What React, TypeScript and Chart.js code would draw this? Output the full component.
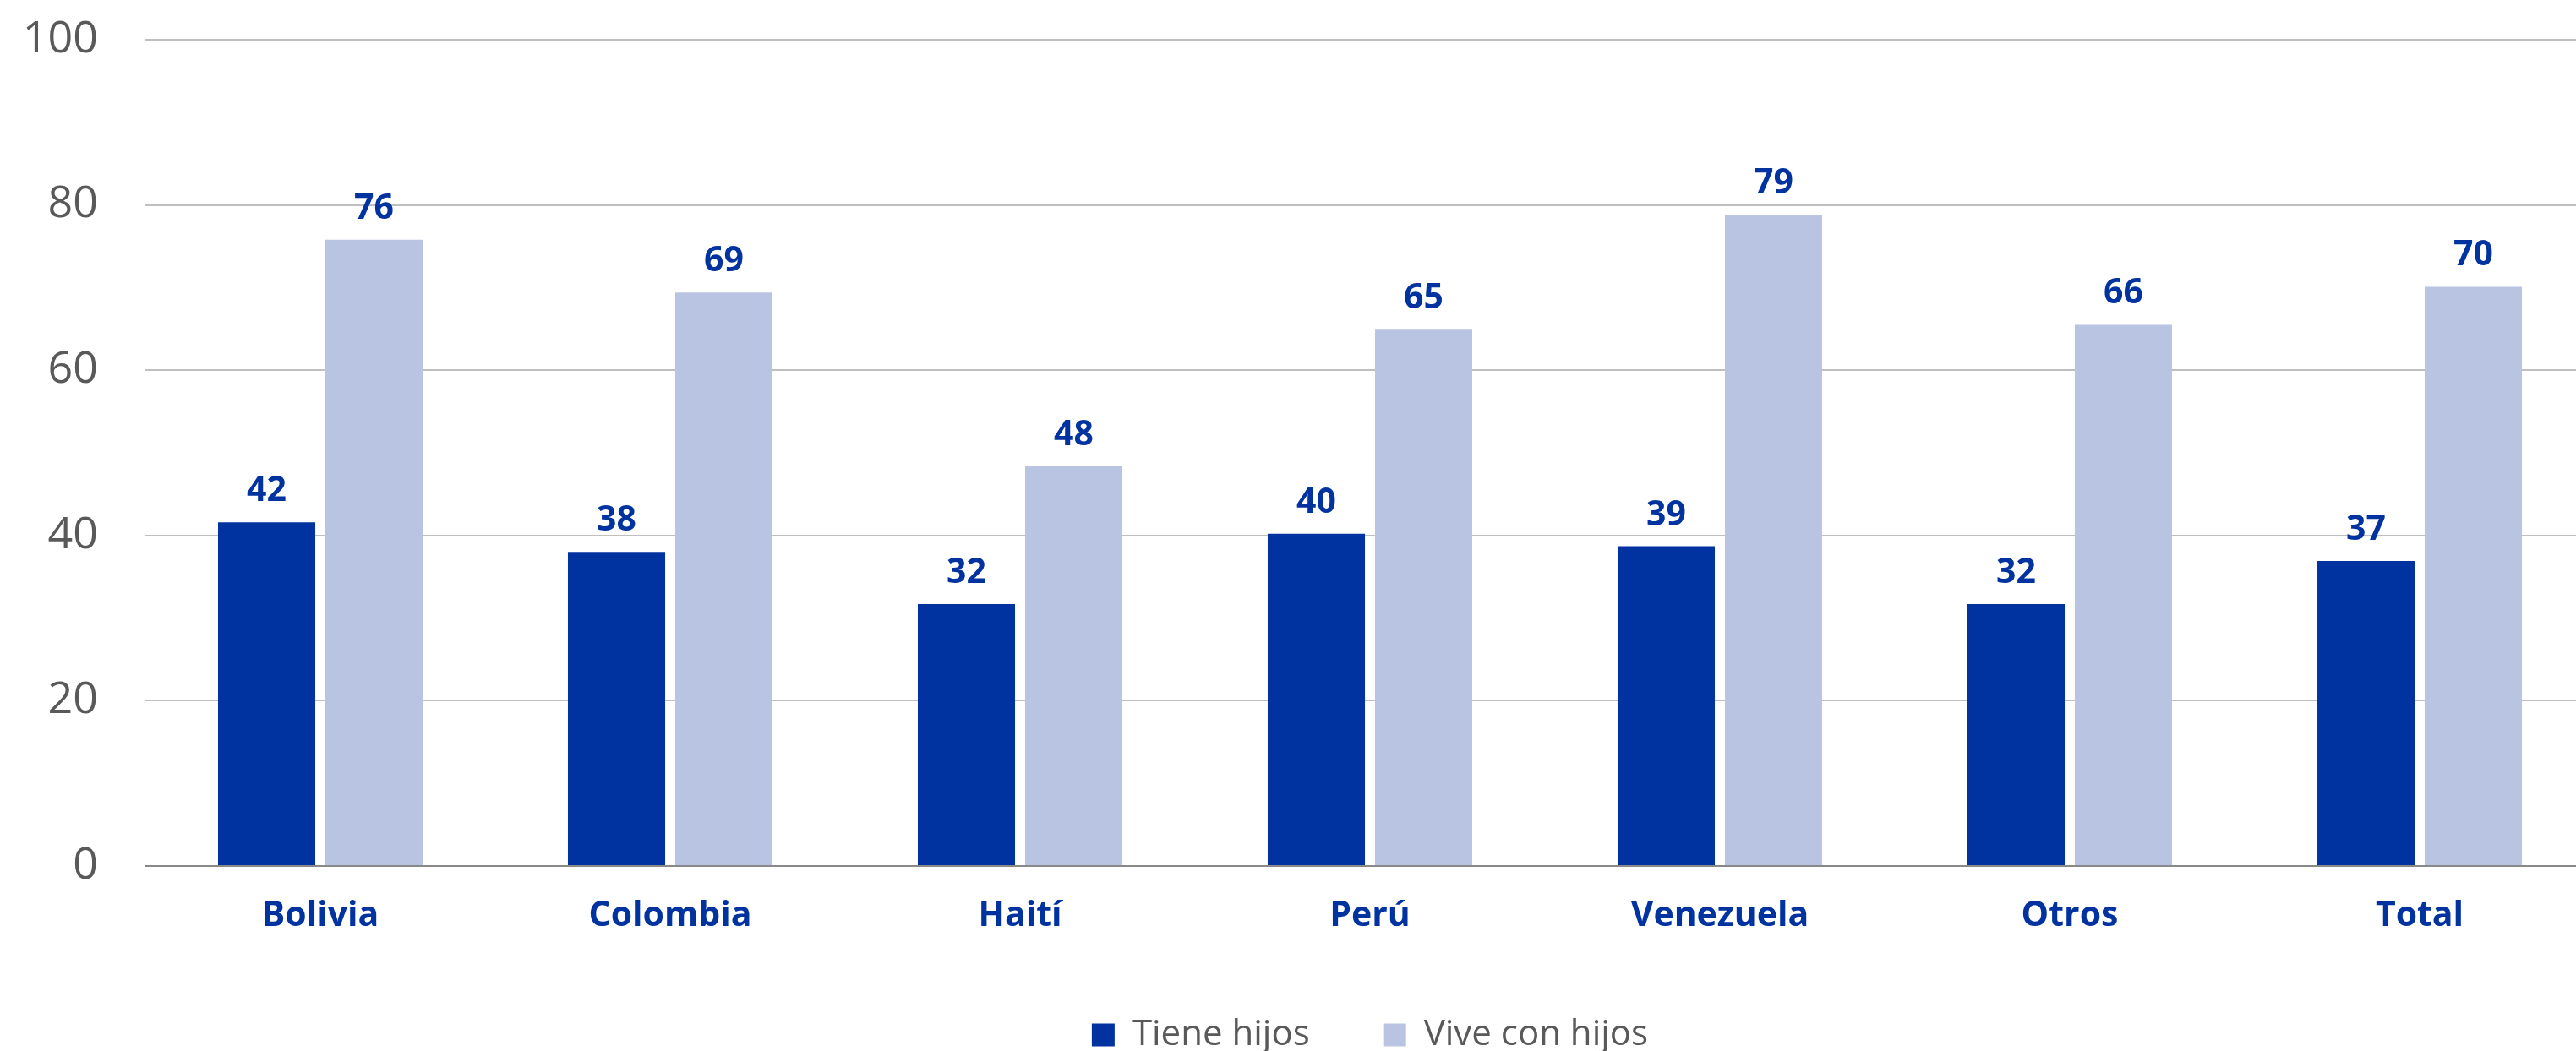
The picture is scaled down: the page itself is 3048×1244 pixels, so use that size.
import React, { useEffect, useRef } from "react";
import { Chart, registerables } from "chart.js";

Chart.register(...registerables);

const categories = ["Bolivia", "Colombia", "Haití", "Perú", "Venezuela", "Otros", "Total"];
const tieneHijos = [41.6, 38.0, 31.7, 40.2, 38.7, 31.7, 36.9];
const viveConHijos = [75.8, 69.4, 48.4, 64.9, 78.8, 65.5, 70.1];
const seriesNames = ["Tiene hijos", "Vive con hijos"];
const seriesColors = ["#0033A0", "#B8C4E1"];
const yMin = 0;
const yMax = 100;
const yStep = 20;

const FONT = "'Open Sans', 'Noto Sans', sans-serif";

const valueLabels = {
  id: "valueLabels",
  afterDatasetsDraw(chart: any) {
    const ctx = chart.ctx;
    ctx.save();
    ctx.font = `bold 41px ${FONT}`;
    ctx.fillStyle = "#0033A0";
    ctx.textAlign = "center";
    ctx.textBaseline = "alphabetic";
    chart.data.datasets.forEach((ds: any, i: number) => {
      const meta = chart.getDatasetMeta(i);
      meta.data.forEach((el: any, j: number) => {
        ctx.fillText(String(Math.round(ds.data[j])), el.x, el.y - 25);
      });
    });
    ctx.restore();
  },
};

export default function App() {
  const ref = useRef<HTMLCanvasElement | null>(null);

  useEffect(() => {
    document.body.style.margin = "0";
    if (!ref.current) return;
    Chart.defaults.font.family = FONT;
    const chart = new Chart(ref.current, {
      type: "bar",
      data: {
        labels: categories,
        datasets: [
          {
            label: seriesNames[0],
            data: tieneHijos,
            backgroundColor: seriesColors[0],
            borderWidth: 0,
            categoryPercentage: 0.6135,
            barPercentage: 0.906,
          },
          {
            label: seriesNames[1],
            data: viveConHijos,
            backgroundColor: seriesColors[1],
            borderWidth: 0,
            categoryPercentage: 0.6135,
            barPercentage: 0.906,
          },
        ],
      },
      options: {
        responsive: false,
        animation: false,
        devicePixelRatio: 1,
        layout: { padding: { top: 47, left: 0, right: 0, bottom: 0 } },
        plugins: {
          tooltip: { enabled: false },
          legend: {
            position: "bottom",
            fullSize: false,
            labels: {
              boxWidth: 27,
              boxHeight: 27,
              padding: 87,
              color: "#595959",
              font: { size: 42, family: FONT },
            },
          },
        },
        scales: {
          x: {
            grid: { display: true, drawOnChartArea: false, drawTicks: false },
            border: { display: true, color: "#898989", width: 2 },
            ticks: {
              color: "#0033A0",
              font: { size: 41, weight: "bold", family: FONT },
              padding: 35,
              maxRotation: 0,
              autoSkip: false,
            },
            afterFit(scale: any) {
              scale.height = 92;
            },
          },
          y: {
            min: yMin,
            max: yMax,
            ticks: {
              stepSize: yStep,
              color: "#595959",
              font: { size: 52, family: FONT },
              padding: 56,
            },
            grid: {
              drawTicks: false,
              lineWidth: 2,
              color: (c: any) => (c.tick && c.tick.value === 0 ? "#898989" : "#BFBFBF"),
            },
            border: { display: false },
            afterFit(scale: any) {
              scale.width = 172;
              scale.paddingTop = 0;
              scale.paddingBottom = 0;
            },
          },
        },
      },
      plugins: [valueLabels],
    });
    return () => chart.destroy();
  }, []);

  return (
    <div style={{ width: 3048, height: 1244, overflow: "hidden", position: "relative", background: "#fff" }}>
      <canvas ref={ref} width={3070} height={1256} style={{ display: "block", width: 3070, height: 1256 }} />
    </div>
  );
}
